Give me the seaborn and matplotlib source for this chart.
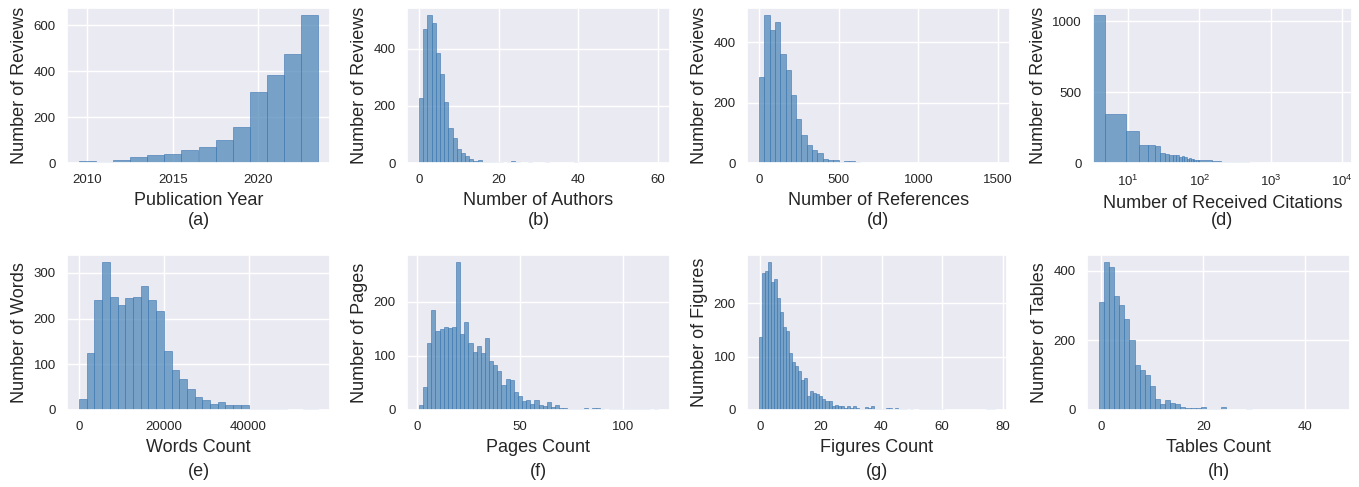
import matplotlib
matplotlib.use("Agg")
import matplotlib.pyplot as plt
from matplotlib.ticker import MultipleLocator
import seaborn as sns
import numpy as np
import pandas as pd

# (a) publication year (one bar per year)
years = np.arange(2010, 2024)
year_counts = [10, 4, 14, 28, 33, 38, 58, 68, 99, 155, 307, 384, 472, 642]

# (b) number of authors
author_edges = np.linspace(0, 60, 58)
author_counts = [226, 471, 517, 489, 386, 310, 212, 121, 86, 48, 34, 23, 15,
                 7, 12, 5, 5, 4, 2, 2, 1, 2, 6,
                 2, 1, 1, 2, 1, 1, 1, 2, 1, 1, 1, 1, 1, 1, 2, 1, 1, 1, 1, 1,
                 1, 1, 1, 1, 1, 1, 1, 1, 1, 1, 1, 1, 1, 1]

# (d) number of references
ref_edges = np.linspace(0, 1500, 46)
ref_counts = [284, 489, 440, 466, 360, 307, 224, 147, 92, 59, 42, 32, 12, 9, 9,
              2, 5, 5, 4, 1, 1, 1, 1, 1, 1, 1, 1, 1, 1, 1, 1, 1, 1, 1, 1,
              1, 1, 1, 1, 1, 1, 1, 1, 1, 1]

# (d) received citations (linear bins shown on a log x axis)
cite_edges = [0, 4.7, 9.4, 14.1, 18.8, 23.5, 28.2, 32.9, 37.6, 42.3, 47, 51.7,
              56.4, 61.1, 65.8, 70.5, 75.2, 79.9, 84.6, 89.3, 94, 98.7, 150,
              200, 300, 500, 1000, 2000, 5000, 9400]
cite_counts = [1043, 343, 227, 130, 125, 118, 68, 63, 58, 58, 56, 41, 46, 39,
               31, 36, 31, 27, 24, 24, 22, 18, 12, 8, 5, 3, 2, 1, 1]

# (e) words count
word_edges = np.linspace(0, 56400, 32)
word_counts = [23, 125, 241, 323, 247, 229, 244, 247, 272, 241, 216, 130, 88,
               67, 46, 29, 22, 13, 18, 10, 10, 12, 3, 3, 3, 2, 2, 1, 1, 2, 2]

# (f) pages count
page_edges = np.arange(1, 118, 2)
page_counts = [10, 43, 124, 185, 146, 150, 154, 152, 153, 273, 141, 162, 124,
               108, 119, 106, 134, 91, 84, 72, 47, 58, 56, 33, 25, 17, 19, 11,
               19, 9, 8, 14, 5, 9, 4, 3, 1, 1, 1, 1, 3, 2, 3, 3, 1, 0, 1, 1,
               1, 1, 1, 1, 1, 1, 1, 1, 0, 1]

# (g) figures count (one bar per value)
figure_values = np.arange(0, 78)
figure_counts = [137, 256, 260, 276, 240, 244, 210, 184, 156, 148, 107, 90, 83,
                 73, 56, 60, 27, 36, 32, 29, 26, 21, 17, 17, 7, 10, 7, 7, 4, 7,
                 4, 8, 4, 2, 1, 5, 3, 7, 1, 1, 1, 2, 4, 4, 2, 3, 1, 1, 2, 0, 1,
                 0, 0, 1, 1, 2, 1, 2, 1, 1, 2, 0, 0, 0, 0, 0, 0, 0, 0, 0, 0, 0,
                 0, 0, 0, 1, 1, 1]

# (h) tables count (one bar per value)
table_values = np.arange(0, 47)
table_counts = [309, 424, 412, 327, 301, 261, 202, 128, 115, 101, 70, 32, 17,
                30, 20, 17, 10, 6, 5, 5, 10, 4, 4, 3, 10, 1, 1, 1, 1, 4, 1, 1,
                1, 1, 1, 1, 1, 1, 1, 1, 1, 1, 1, 1, 1, 1, 1]


def binned(edges, counts):
    edges = np.asarray(edges, dtype=float)
    df = pd.DataFrame({'value': (edges[:-1] + edges[1:]) / 2, 'count': counts})
    return dict(data=df, x='value', weights='count', bins=edges.tolist())


def per_value(values, counts):
    df = pd.DataFrame({'value': values, 'count': counts})
    return dict(data=df, x='value', weights='count', discrete=True)


sns.set_theme(style="darkgrid")
plt.rcParams['font.family'] = ['Liberation Sans', 'DejaVu Sans']

fig = plt.figure(figsize=(13.59, 4.87), dpi=100)

W, H = 1359, 487
boxes = {
    'a': (67, 8, 330, 163), 'b': (407, 8, 670, 163),
    'c': (747, 8, 1010, 163), 'd': (1093, 8, 1352, 163),
    'e': (67, 255, 330, 410), 'f': (407, 255, 670, 410),
    'g': (747, 255, 1007, 410), 'h': (1087, 255, 1350, 410),
}
axes = {}
for k, (x0, y0, x1, y1) in boxes.items():
    axes[k] = fig.add_axes([x0 / W, 1 - y1 / H, (x1 - x0) / W, (y1 - y0) / H])

bar_kws = dict(color='steelblue', alpha=0.7, edgecolor=(0.25, 0.48, 0.70, 0.7),
               linewidth=0.6)

# key, data, xlabel, ylabel, caption, x tick step, y tick step
panels = [
    ('a', per_value(years, year_counts),
     'Publication Year', 'Number of Reviews', '(a)', 5, 200),
    ('b', binned(author_edges, author_counts),
     'Number of Authors', 'Number of Reviews', '(b)', 20, 200),
    ('c', binned(ref_edges, ref_counts),
     'Number of References', 'Number of Reviews', '(d)', 500, 200),
    ('d', binned(cite_edges, cite_counts),
     'Number of Received Citations', 'Number of Reviews', '(d)', None, 500),
    ('e', binned(word_edges, word_counts),
     'Words Count', 'Number of Words', '(e)', 20000, 100),
    ('f', binned(page_edges, page_counts),
     'Pages Count', 'Number of Pages', '(f)', 50, 100),
    ('g', per_value(figure_values, figure_counts),
     'Figures Count', 'Number of Figures', '(g)', 20, 100),
    ('h', per_value(table_values, table_counts),
     'Tables Count', 'Number of Tables', '(h)', 20, 200),
]

for key, kws, xlabel, ylabel, caption, xstep, ystep in panels:
    ax = axes[key]
    sns.histplot(ax=ax, **kws, **bar_kws)
    if key == 'd':
        ax.set_xscale('log')
    else:
        ax.xaxis.set_major_locator(MultipleLocator(xstep))
    ax.yaxis.set_major_locator(MultipleLocator(ystep))
    ax.set_xlabel(xlabel, fontsize=13, color='#262626', labelpad=4)
    ax.set_ylabel(ylabel, fontsize=13, color='#262626')
    ax.tick_params(labelsize=9.5, pad=2)
    cap_y = -0.37 if key in 'abcd' else -0.40
    ax.text(0.5, cap_y, caption, transform=ax.transAxes, ha='center',
            va='center', fontsize=13, color='#262626')

fig.savefig('out.png', dpi=100)
